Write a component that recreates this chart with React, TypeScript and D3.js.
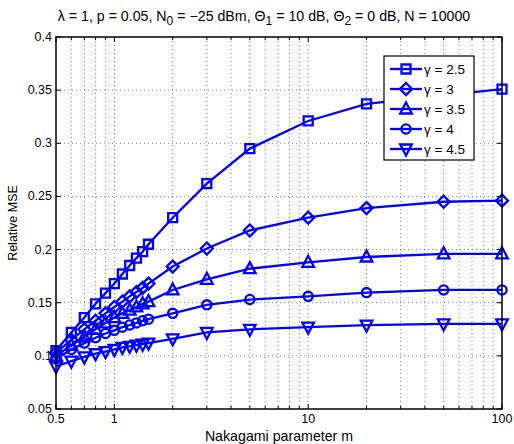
import React from 'react';
import * as d3 from 'd3';

const mValues = [0.5, 0.6, 0.7, 0.8, 0.9, 1, 1.1, 1.2, 1.3, 1.4, 1.5, 2, 3, 5, 10, 20, 50, 100];

const gammaLabels = ['γ = 2.5', 'γ = 3', 'γ = 3.5', 'γ = 4', 'γ = 4.5'];
const markerKinds = ['square', 'diamond', 'triangle', 'circle', 'triangleDown'];

const mseGamma25 = [0.105, 0.122, 0.136, 0.149, 0.159, 0.168, 0.177, 0.185, 0.192, 0.198, 0.205, 0.230, 0.262, 0.295, 0.321, 0.337, 0.345, 0.351];
const mseGamma3 = [0.103, 0.115, 0.125, 0.133, 0.140, 0.146, 0.151, 0.156, 0.160, 0.164, 0.168, 0.184, 0.201, 0.218, 0.230, 0.239, 0.245, 0.246];
const mseGamma35 = [0.100, 0.110, 0.118, 0.125, 0.131, 0.136, 0.140, 0.143, 0.146, 0.149, 0.151, 0.162, 0.172, 0.182, 0.188, 0.193, 0.196, 0.196];
const mseGamma4 = [0.097, 0.106, 0.112, 0.117, 0.121, 0.124, 0.127, 0.129, 0.131, 0.133, 0.1345, 0.140, 0.148, 0.153, 0.156, 0.1595, 0.162, 0.162];
const mseGamma45 = [0.090, 0.095, 0.099, 0.102, 0.104, 0.106, 0.108, 0.109, 0.110, 0.111, 0.112, 0.116, 0.122, 0.125, 0.127, 0.129, 0.130, 0.130];

const allSeries = [mseGamma25, mseGamma3, mseGamma35, mseGamma4, mseGamma45];

const xTicks = [0.5, 1, 10, 100];
const yTicks = [0.05, 0.1, 0.15, 0.2, 0.25, 0.3, 0.35, 0.4];

const W = 514, H = 444;
const p = { left: 56, right: 12, top: 37, bottom: 35 };
const font = '"Liberation Sans", Arial, Helvetica, sans-serif';
const blue = '#0000ff';

// marker path centered on 0,0
function markerPath(kind: string) {
  switch (kind) {
    case 'square': return 'M-4.5,-4.5H4.5V4.5H-4.5Z';
    case 'diamond': return 'M0,-6L6,0L0,6L-6,0Z';
    case 'triangle': return 'M0,-6.5L5.8,4.5L-5.8,4.5Z';
    case 'triangleDown': return 'M0,6.5L5.8,-4.5L-5.8,-4.5Z';
    default: return d3.arc()({ innerRadius: 0, outerRadius: 4.6, startAngle: 0, endAngle: 2 * Math.PI }) as string;
  }
}

export default function App() {
  const x = d3.scaleLog().domain([0.5, 100]).range([p.left, W - p.right]);
  const y = d3.scaleLinear().domain([0.05, 0.4]).range([H - p.bottom, p.top]);
  const [x0, x1] = x.range();
  const [y0, y1] = y.range();

  // minor log ticks for grid
  const minor: number[] = [];
  [0.1, 1, 10].forEach(dec => {
    for (let k = 1; k <= 9; k++) {
      const v = dec * k;
      if (v >= 0.5 && v <= 100 && !xTicks.includes(v)) minor.push(v);
    }
  });
  const xGrid = [...minor, 1, 10];

  const line = d3.line<number>().x((d, i) => x(mValues[i])).y(d => y(d));

  return (
    <svg width={W} height={H} style={{ position: 'absolute', left: 0, top: 0, background: '#fff' }}
         fontFamily={font}>
      <rect width={W} height={H} fill="#fff" />

      {/* grid */}
      {xGrid.map(v => (
        <line key={'gx' + v} x1={x(v)} x2={x(v)} y1={y1} y2={y0}
              stroke="#000" strokeOpacity={0.5} strokeDasharray="1,3" />
      ))}
      {yTicks.slice(1, -1).map(v => (
        <line key={'gy' + v} x1={x0} x2={x1} y1={y(v)} y2={y(v)}
              stroke="#000" strokeOpacity={0.5} strokeDasharray="1,3" />
      ))}

      {/* ticks, inward on all sides */}
      {xTicks.map(v => (
        <g key={'tx' + v}>
          <line x1={x(v)} x2={x(v)} y1={y0} y2={y0 - 5} stroke="#000" />
          <line x1={x(v)} x2={x(v)} y1={y1} y2={y1 + 5} stroke="#000" />
          <text x={x(v)} y={y0 + 14} textAnchor="middle" fontSize={12.5}>{v}</text>
        </g>
      ))}
      {minor.map(v => (
        <g key={'mx' + v}>
          <line x1={x(v)} x2={x(v)} y1={y0} y2={y0 - 3} stroke="#000" />
          <line x1={x(v)} x2={x(v)} y1={y1} y2={y1 + 3} stroke="#000" />
        </g>
      ))}
      {yTicks.map(v => (
        <g key={'ty' + v}>
          <line x1={x0} x2={x0 + 5} y1={y(v)} y2={y(v)} stroke="#000" />
          <line x1={x1} x2={x1 - 5} y1={y(v)} y2={y(v)} stroke="#000" />
          <text x={x0 - 4} y={y(v) + 4} textAnchor="end" fontSize={12.5}>{v}</text>
        </g>
      ))}

      {/* series */}
      {allSeries.map((s, si) => (
        <g key={'s' + si}>
          <path d={line(s) as string} fill="none" stroke={blue} strokeWidth={2.3} />
          {s.map((d, i) => (
            <path key={i} d={markerPath(markerKinds[si])}
                  transform={`translate(${x(mValues[i])},${y(d)})`}
                  fill="none" stroke={blue} strokeWidth={2.3} />
          ))}
        </g>
      ))}

      {/* box */}
      <rect x={x0} y={y1} width={x1 - x0} height={y0 - y1} fill="none" stroke="#000" strokeWidth={1.5} />

      {/* legend */}
      <g transform="translate(384,56)">
        <rect width={90} height={104} fill="#fff" stroke="#000" strokeWidth={1.2} />
        {gammaLabels.map((lab, i) => (
          <g key={lab} transform={`translate(0,${13 + i * 20})`}>
            <line x1={6} x2={38} y1={0} y2={0} stroke={blue} strokeWidth={2.3} />
            <path d={markerPath(markerKinds[i])} transform="translate(22,0)"
                  fill="none" stroke={blue} strokeWidth={2.3} />
            <text x={40} y={5} fontSize={13.5}>{lab}</text>
          </g>
        ))}
      </g>

      {/* title */}
      <text x={264} y={21} textAnchor="middle" fontSize={14.2}>
        λ = 1, p = 0.05, N<tspan dy={4} fontSize={12}>0</tspan>
        <tspan dy={-4}> = −25 dBm, Θ</tspan><tspan dy={4} fontSize={12}>1</tspan>
        <tspan dy={-4}> = 10 dB, Θ</tspan><tspan dy={4} fontSize={12}>2</tspan>
        <tspan dy={-4}> = 0 dB, N = 10000</tspan>
      </text>

      {/* axis labels */}
      <text x={(x0 + x1) / 2} y={441} textAnchor="middle" fontSize={14.2}>Nakagami parameter m</text>
      <text transform={`translate(17,${(y0 + y1) / 2}) rotate(-90)`} textAnchor="middle" fontSize={12.5}>Relative MSE</text>
    </svg>
  );
}
